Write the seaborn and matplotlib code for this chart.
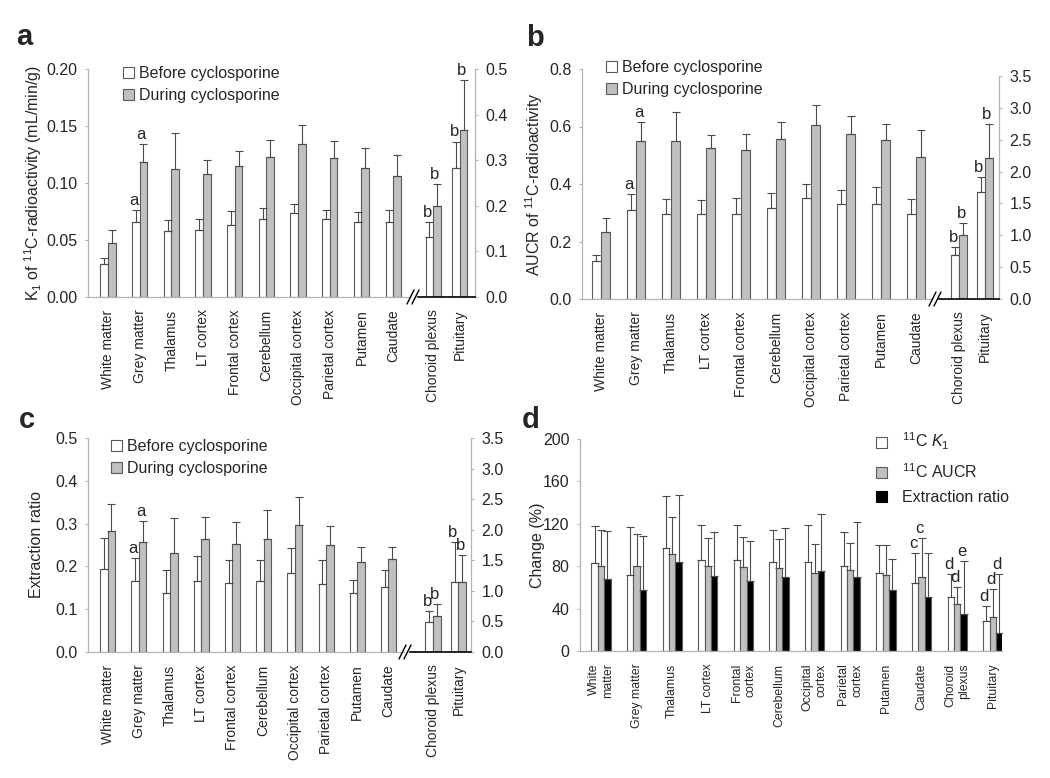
import numpy as np
import pandas as pd
import matplotlib
matplotlib.use("Agg")
import matplotlib.pyplot as plt
from matplotlib.patches import Patch
from matplotlib.lines import Line2D
from matplotlib.ticker import FormatStrFormatter, MultipleLocator
import seaborn as sns

# ---------------- data ----------------
regions = ["White matter", "Grey matter", "Thalamus", "LT cortex", "Frontal cortex",
           "Cerebellum", "Occipital cortex", "Parietal cortex", "Putamen", "Caudate",
           "Choroid plexus", "Pituitary"]
d_labels = ["White\nmatter", "Grey matter", "Thalamus", "LT cortex", "Frontal\ncortex",
            "Cerebellum", "Occipital\ncortex", "Parietal\ncortex", "Putamen", "Caudate",
            "Choroid\nplexus", "Pituitary"]
conditions = ["Before cyclosporine", "During cyclosporine"]
d_series = ["11C K1", "11C AUCR", "Extraction ratio"]

# panel a: K1 (last two on right axis)
k1_before = [0.029, 0.066, 0.058, 0.059, 0.063, 0.068, 0.074, 0.068, 0.066, 0.066, 0.132, 0.283]
k1_before_sd = [0.0055, 0.010, 0.0095, 0.0093, 0.012, 0.0097, 0.008, 0.0082, 0.0085, 0.0102, 0.0325, 0.058]
k1_during = [0.0474, 0.118, 0.112, 0.1076, 0.1146, 0.1231, 0.1342, 0.1222, 0.1132, 0.1064, 0.199, 0.367]
k1_during_sd = [0.0114, 0.016, 0.0316, 0.0129, 0.0132, 0.0149, 0.0164, 0.0146, 0.0175, 0.0179, 0.048, 0.109]

# panel b: AUCR
aucr_before = [0.132, 0.311, 0.294, 0.296, 0.296, 0.318, 0.352, 0.332, 0.329, 0.296, 0.696, 1.679]
aucr_before_sd = [0.020, 0.054, 0.053, 0.047, 0.056, 0.050, 0.049, 0.047, 0.059, 0.051, 0.125, 0.241]
aucr_during = [0.233, 0.550, 0.550, 0.524, 0.517, 0.558, 0.604, 0.575, 0.552, 0.493, 1.009, 2.218]
aucr_during_sd = [0.048, 0.067, 0.099, 0.048, 0.057, 0.059, 0.070, 0.062, 0.058, 0.094, 0.189, 0.533]

# panel c: extraction ratio
er_before = [0.194, 0.165, 0.138, 0.165, 0.161, 0.165, 0.184, 0.159, 0.137, 0.151, 0.484, 1.141]
er_before_sd = [0.072, 0.055, 0.053, 0.059, 0.054, 0.049, 0.060, 0.056, 0.032, 0.040, 0.179, 0.663]
er_during = [0.283, 0.256, 0.231, 0.264, 0.252, 0.264, 0.297, 0.250, 0.210, 0.217, 0.592, 1.147]
er_during_sd = [0.062, 0.049, 0.083, 0.051, 0.052, 0.067, 0.066, 0.045, 0.035, 0.029, 0.191, 0.435]

sig_before = ["", "a", "", "", "", "", "", "", "", "", "b", "b"]
sig_during = ["", "a", "", "", "", "", "", "", "", "", "b", "b"]

# panel d: change (%)
chg_k1 = [83.0, 71.4, 97.2, 86.2, 85.5, 84.3, 83.6, 80.5, 73.6, 63.8, 51.3, 28.6]
chg_k1_sd = [35.2, 45.9, 49.3, 33.0, 33.4, 29.9, 35.3, 31.5, 26.4, 28.7, 21.7, 13.5]
chg_aucr = [80.2, 80.5, 91.2, 80.5, 78.9, 78.3, 73.6, 76.4, 72.0, 70.1, 44.7, 32.1]
chg_aucr_sd = [34.0, 30.2, 35.5, 25.8, 28.6, 27.7, 27.7, 25.5, 28.0, 36.8, 16.0, 26.4]
chg_er = [67.6, 57.5, 84.3, 71.1, 66.0, 69.5, 75.5, 69.5, 57.2, 51.3, 34.6, 17.0]
chg_er_sd = [45.3, 50.7, 62.6, 41.5, 38.1, 46.2, 53.4, 51.9, 29.9, 41.2, 50.0, 55.6]
sig_k1 = ["", "", "", "", "", "", "", "", "", "c", "d", "d"]
sig_aucr = ["", "", "", "", "", "", "", "", "", "c", "d", "d"]
sig_er = ["", "", "", "", "", "", "", "", "", "", "e", "d"]

# ---------------- style ----------------
sns.set_style("white")
plt.rcParams["font.family"] = ["Liberation Sans", "DejaVu Sans"]
plt.rcParams["mathtext.fontset"] = "custom"
plt.rcParams["mathtext.rm"] = "Liberation Sans"
plt.rcParams["mathtext.it"] = "Liberation Sans:italic"
plt.rcParams["mathtext.bf"] = "Liberation Sans:bold"

W, H = 1050, 778
fig = plt.figure(figsize=(W / 100, H / 100), dpi=100)
fig.patch.set_facecolor("white")

SPINE = "#b4b4b4"
EDGE = "#5a5a5a"
ECOL = "#4a4a4a"
GRAY = "#c0c0c0"
TICKFS = 11.5
LBLFS = 11.5


def add_ax(l, t, r, b):
    return fig.add_axes([l / W, 1 - b / H, (r - l) / W, (b - t) / H])


def style_y(ax, side, lim, step, fmt):
    ax.set_ylim(*lim)
    ax.yaxis.set_major_locator(MultipleLocator(step))
    ax.yaxis.set_major_formatter(FormatStrFormatter(fmt))
    ax.tick_params(axis="y", direction="out", length=2.5, width=0.8, color=SPINE,
                   labelsize=TICKFS, pad=5, left=(side == "left"), right=(side == "right"),
                   labelleft=(side == "left"), labelright=(side == "right"))
    for s in ["top", "left", "right", "bottom"]:
        ax.spines[s].set_visible(False)
    ax.spines[side].set_visible(True)
    ax.spines[side].set_color(SPINE)
    ax.spines[side].set_linewidth(0.9)
    ax.spines["bottom"].set_visible(True)
    ax.set_facecolor("none")


def bars(ax, cats, labels, series, means, sds, sigs, palette, width, xlim, xfs, bottom_col):
    rows = []
    for sname, vals in zip(series, means):
        for c, v in zip(cats, vals):
            rows.append({"region": c, "series": sname, "value": v})
    df = pd.DataFrame(rows)
    sns.barplot(data=df, x="region", y="value", hue="series", order=cats, hue_order=series,
                palette=palette, edgecolor=EDGE, linewidth=0.8, width=width,
                errorbar=None, legend=False, ax=ax, zorder=2)
    for cont, vals, sd, sg in zip(ax.containers, means, sds, sigs):
        xs = [p.get_x() + p.get_width() / 2 for p in cont]
        ax.errorbar(xs, vals, yerr=[np.zeros(len(vals)), sd], fmt="none", ecolor=ECOL,
                    elinewidth=0.8, capsize=3.2, capthick=0.8, zorder=3)
        for x, v, s, t in zip(xs, vals, sd, sg):
            if t:
                ax.annotate(t, (x, v + s), xytext=(-1.5, 1.5), textcoords="offset points",
                            ha="center", va="bottom", fontsize=12)
    ax.set_xticks(range(len(cats)))
    ax.set_xticklabels(labels, rotation=90, fontsize=xfs, multialignment="right")
    ax.tick_params(axis="x", length=0, pad=9)
    ax.set_xlim(*xlim)
    ax.set_xlabel("")
    ax.set_ylabel("")
    ax.spines["bottom"].set_color(bottom_col)
    ax.spines["bottom"].set_linewidth(0.9 if bottom_col == SPINE else 1.2)


def draw_break(xc, yc):
    for dx in (-2.5, 2.5):
        x0, x1 = xc + dx - 3.5, xc + dx + 3.5
        y0, y1 = yc + 7, yc - 7
        fig.add_artist(Line2D([x0 / W, x1 / W], [1 - y0 / H, 1 - y1 / H],
                              transform=fig.transFigure, color="black", lw=1.0))


def pair_legend(ax, x, y, fs=11.5):
    handles = [Patch(facecolor="white", edgecolor=EDGE, lw=0.8),
               Patch(facecolor=GRAY, edgecolor=EDGE, lw=0.8)]
    ax.legend(handles, conditions, loc="upper left", bbox_to_anchor=(x / W, 1 - y / H),
              bbox_transform=fig.transFigure, frameon=False, fontsize=fs,
              handlelength=0.7, handleheight=0.7, handletextpad=0.3,
              labelspacing=0.45, borderpad=0, borderaxespad=0)


pal2 = {conditions[0]: "white", conditions[1]: GRAY}
main_c, side_c = regions[:10], regions[10:]


def pair_panel(box_main, box_side, xlim_main, xlim_side, w_main, w_side,
               before, bsd, during, dsd, ylim_l, step_l, fmt_l, ylim_r, step_r, fmt_r,
               ylabel, ylab_x, leg_xy, brk, rbounds=None):
    axm = add_ax(*box_main)
    bars(axm, main_c, main_c, conditions, [before[:10], during[:10]],
         [bsd[:10], dsd[:10]], [sig_before[:10], sig_during[:10]], pal2, w_main,
         xlim_main, 10, SPINE)
    style_y(axm, "left", ylim_l, step_l, fmt_l)
    axm.spines["bottom"].set_color(SPINE)
    axm.set_ylabel(ylabel, fontsize=LBLFS)
    axm.yaxis.set_label_coords((ylab_x - box_main[0]) / (box_main[2] - box_main[0]), 0.5)
    axs = add_ax(*box_side)
    bars(axs, side_c, side_c, conditions, [before[10:], during[10:]],
         [bsd[10:], dsd[10:]], [sig_before[10:], sig_during[10:]], pal2, w_side,
         xlim_side, 10, "black")
    style_y(axs, "right", ylim_r, step_r, fmt_r)
    axs.spines["bottom"].set_color("black")
    axs.spines["bottom"].set_linewidth(1.2)
    if rbounds:
        axs.spines["right"].set_bounds(*rbounds)
    pair_legend(axm, *leg_xy)
    draw_break(*brk)
    return axm, axs


# panel a
pair_panel((88, 69, 409, 297), (418, 69, 475, 297), (-0.63, 9.5), (-0.56, 1.56), 0.48, 0.56,
           k1_before, k1_before_sd, k1_during, k1_during_sd,
           (0, 0.20), 0.05, "%.2f", (0, 0.5), 0.1, "%.1f",
           r"K$_1$ of $^{11}$C-radioactivity (mL/min/g)", 44, (123, 66), (413, 297))

# panel b
pair_panel((582, 69, 932, 299), (939, 69, 999, 299), (-0.54, 9.46), (-0.79, 1.54), 0.53, 0.62,
           aucr_before, aucr_before_sd, aucr_during, aucr_during_sd,
           (0, 0.8), 0.2, "%.1f", (0, 3.61), 0.5, "%.1f",
           r"AUCR of $^{11}$C-radioactivity", 545, (606, 60), (935, 299), rbounds=(0, 3.5))

# panel c
pair_panel((88, 438, 404, 652), (410, 438, 471, 652), (-0.63, 9.5), (-0.9, 1.49), 0.48, 0.59,
           er_before, er_before_sd, er_during, er_during_sd,
           (0, 0.5), 0.1, "%.1f", (0, 3.5), 0.5, "%.1f",
           "Extraction ratio", 44, (111, 439), (405, 652))

# panel d
axd = add_ax(580, 439, 1002, 651)
pal3 = {d_series[0]: "white", d_series[1]: GRAY, d_series[2]: "black"}
bars(axd, regions, d_labels, d_series, [chg_k1, chg_aucr, chg_er],
     [chg_k1_sd, chg_aucr_sd, chg_er_sd], [sig_k1, sig_aucr, sig_er], pal3, 0.54,
     (-0.59, 11.26), 8.8, SPINE)
style_y(axd, "left", (0, 200), 40, "%d")
axd.spines["bottom"].set_color(SPINE)
axd.set_ylabel("Change (%)", fontsize=LBLFS)
axd.yaxis.set_label_coords((545 - 580) / (1002 - 580), 0.5)
hd = [Patch(facecolor="white", edgecolor=EDGE, lw=0.8),
      Patch(facecolor=GRAY, edgecolor=EDGE, lw=0.8),
      Patch(facecolor="black", edgecolor="black", lw=0.8)]
axd.legend(hd, [r"$^{11}$C $K_1$", r"$^{11}$C AUCR", "Extraction ratio"], loc="upper left",
           bbox_to_anchor=(876 / W, 1 - 431 / H), bbox_transform=fig.transFigure,
           frameon=False, fontsize=11.5, handlelength=0.7, handleheight=0.7,
           handletextpad=0.9, labelspacing=0.6, borderpad=0, borderaxespad=0)

# panel letters
for letter, x, y in [("a", 16, 45), ("b", 526, 46), ("c", 19, 428), ("d", 522, 428)]:
    fig.text(x / W, 1 - y / H, letter, fontsize=21, fontweight="bold", va="baseline", ha="left")

fig.savefig("out.png", dpi=100)
